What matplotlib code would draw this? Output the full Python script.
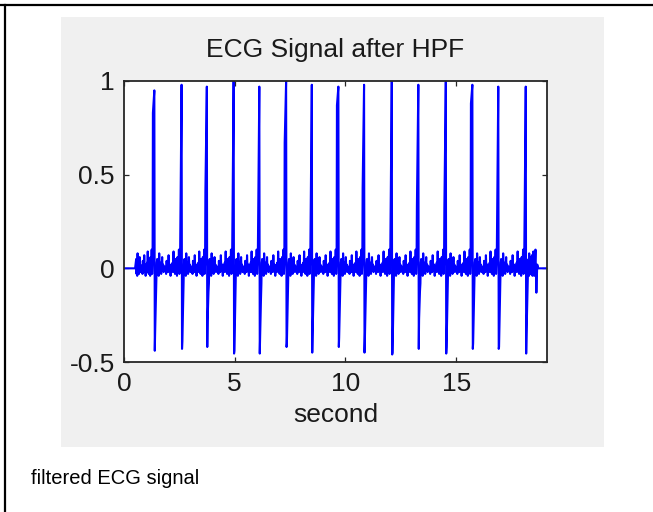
import numpy as np
import matplotlib
matplotlib.use("Agg")
import matplotlib.pyplot as plt
from matplotlib.lines import Line2D
from matplotlib.patches import Rectangle

# R-peak times (s) and amplitudes of the filtered ECG
beat_t = [1.37, 2.60, 3.74, 4.95, 6.11, 7.32, 8.48, 9.68, 10.84, 12.09,
          13.29, 14.53, 15.73, 16.90, 18.14]
r_peak = [0.95, 0.98, 0.97, 1.00, 0.97, 1.00, 0.98, 0.97, 0.98, 1.00,
          0.98, 0.995, 0.98, 0.97, 0.97]
r_step = [0.83, 0.10, 0.41, 0.10, 0.10, 0.67, 0.10, 0.87, 0.43, 0.10,
          0.33, 0.32, 0.88, 0.10, 0.10]
s_trough = [-0.44, -0.43, -0.42, -0.455, -0.455, -0.42, -0.45, -0.42, -0.45, -0.46,
            -0.43, -0.455, -0.43, -0.43, -0.455]
s_step = [-0.35, -0.39, -0.28, -0.44, -0.37, -0.40, -0.36, -0.37, -0.39, -0.45,
          -0.27, -0.42, -0.40, -0.42, -0.36]
# residual baseline wiggle between beats
wiggle = [0.05, -0.03, 0.02, -0.04, 0.08, 0.0, -0.02, 0.03, -0.03, 0.01, 0.06,
          -0.01, 0.02, -0.02, 0.0, 0.01, -0.01, 0.0, -0.03, 0.04, -0.01, 0.01,
          -0.02, 0.07, 0.0, -0.01, 0.02, -0.04, 0.01, 0.0, -0.02, 0.03, -0.01,
          0.09, -0.02, 0.02, -0.03, 0.05, -0.02, 0.01, -0.04, 0.06, -0.01, 0.02]
tail_t = [18.58, 18.62, 18.66, 18.70, 19.10]
tail_v = [0.10, -0.13, 0.02, 0.0, 0.0]

t = [0.0, 0.5]
y = [0.0, 0.0]

def add_wiggle(t0, t1):
    ts = np.linspace(t0, t1, len(wiggle))
    t.extend(ts)
    y.extend(wiggle)

add_wiggle(0.55, beat_t[0] - 0.14)
for i, bt in enumerate(beat_t):
    # QRS: small lead-in, R wave, S wave, recovery
    t.extend([bt - 0.12, bt - 0.10, bt - 0.08, bt - 0.065, bt,
              bt + 0.02, bt + 0.035, bt + 0.075, bt + 0.095, bt + 0.11])
    y.extend([0.10, -0.03, 0.02, r_step[i], r_peak[i],
              s_trough[i], s_step[i], s_step[i] * 0.45, -0.08, 0.03])
    if i + 1 < len(beat_t):
        add_wiggle(bt + 0.13, beat_t[i + 1] - 0.14)
    else:
        add_wiggle(bt + 0.13, 18.55)
t.extend(tail_t)
y.extend(tail_v)

plt.rcParams['font.family'] = ['Liberation Sans', 'DejaVu Sans']
txt = '#1a1a1a'

fig = plt.figure(figsize=(6.53, 5.12), dpi=100, facecolor='white')
fig.patches.append(Rectangle((61 / 653, 1 - 447 / 512), 543 / 653, 430 / 512,
                             transform=fig.transFigure, facecolor='#f0f0f0',
                             edgecolor='none', zorder=-5))
fig.add_artist(Line2D([0, 1], [1 - 5 / 512, 1 - 5 / 512], color='black', lw=1.6))
fig.add_artist(Line2D([5 / 653, 5 / 653], [0, 1 - 5 / 512], color='black', lw=1.6))

ax = fig.add_axes([124 / 653, 150 / 512, 423 / 653, 281 / 512])
ax.set_zorder(2)
ax.plot(t, y, color='#0000ff', lw=1.5)
ax.set_xlim(0, 19.1)
ax.set_ylim(-0.5, 1)
ax.set_xticks([0, 5, 10, 15])
ax.set_xticklabels(['0', '5', '10', '15'])
ax.set_yticks([-0.5, 0, 0.5, 1])
ax.set_yticklabels(['-0.5', '0', '0.5', '1'])
ax.tick_params(direction='in', length=3.5, width=0.9, top=True, right=True,
               labelsize=19, colors='#262626', labelcolor=txt)
ax.tick_params(axis='x', pad=7)
ax.tick_params(axis='y', pad=6.5)
for s in ax.spines.values():
    s.set_color('#262626')
    s.set_linewidth(1.3)
ax.set_title('ECG Signal after HPF', fontsize=19, color=txt, pad=17)
ax.set_xlabel('second', fontsize=19, color=txt, labelpad=5)

fig.text(31 / 653, 28 / 512, 'filtered ECG signal', fontsize=14.5, color='black',
         ha='left', va='baseline')

fig.savefig('out.png', dpi=100, facecolor='white')
